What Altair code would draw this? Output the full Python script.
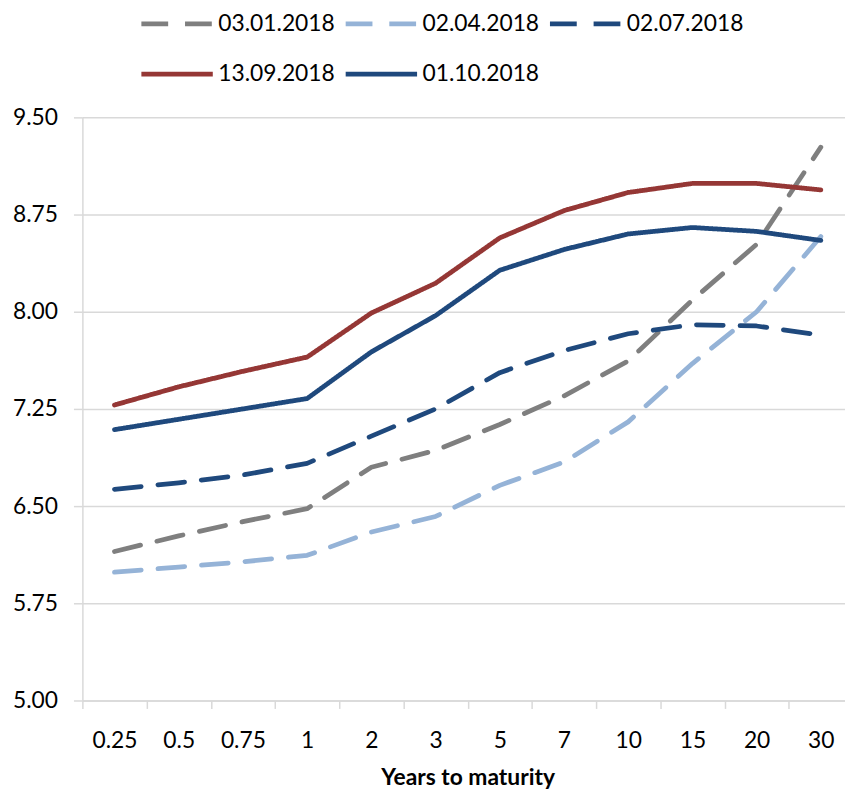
import altair as alt
import pandas as pd

maturities = ["0.25", "0.5", "0.75", "1", "2", "3", "5", "7", "10", "15", "20", "30"]
series_names = ["03.01.2018", "02.04.2018", "02.07.2018", "13.09.2018", "01.10.2018"]
s_0301 = [6.15, 6.27, 6.38, 6.48, 6.80, 6.93, 7.13, 7.35, 7.62, 8.09, 8.52, 9.27]
s_0204 = [5.99, 6.03, 6.07, 6.12, 6.30, 6.42, 6.66, 6.84, 7.15, 7.60, 8.00, 8.58]
s_0207 = [6.63, 6.68, 6.74, 6.83, 7.04, 7.25, 7.53, 7.70, 7.83, 7.90, 7.89, 7.82]
s_1309 = [7.28, 7.42, 7.54, 7.65, 7.99, 8.22, 8.57, 8.78, 8.92, 8.99, 8.99, 8.94]
s_0110 = [7.09, 7.17, 7.25, 7.33, 7.69, 7.97, 8.32, 8.48, 8.60, 8.65, 8.62, 8.55]
y_ticks = [5.00, 5.75, 6.50, 7.25, 8.00, 8.75, 9.50]

colors = ["#7f7f7f", "#95b3d7", "#1f497d", "#953735", "#1f497d"]
dashes = [[27, 17], [27, 17], [27, 17], [1, 0], [1, 0]]

rows = []
for name, vals in zip(series_names, [s_0301, s_0204, s_0207, s_1309, s_0110]):
    for m, v in zip(maturities, vals):
        rows.append({"series": name, "maturity": m, "value": v})
df = pd.DataFrame(rows)

FONT = "Lato"

legend_opts = dict(title=None, orient="none", legendX=57, legendY=-133,
                   columns=3, direction="horizontal",
                   symbolType="stroke", symbolSize=5184,
                   symbolStrokeWidth=4.8, labelFontSize=23,
                   labelOffset=3, columnPadding=0, rowPadding=-8,
                   labelColor="#000000")

chart = alt.Chart(df).mark_line(strokeWidth=4.8, strokeCap="round", strokeJoin="round").encode(
    x=alt.X("maturity:O", sort=maturities, bandPosition=0.5,
            scale=alt.Scale(type="band", paddingInner=0, paddingOuter=0, range=[0, 777]),
            axis=alt.Axis(title="Years to maturity", labelAngle=0, tickBand="extent",
                          grid=False, domainColor="#d9d9d9", tickColor="#d9d9d9",
                          domainWidth=1.5, tickWidth=1.5, tickSize=8, labelPadding=21,
                          labelFontSize=23, titleFontSize=23, titleFontWeight="bold",
                          titlePadding=15, labelColor="#000000", titleColor="#000000")),
    y=alt.Y("value:Q", scale=alt.Scale(domain=[5, 9.5], nice=False, zero=False),
            axis=alt.Axis(title=None, values=y_ticks, format=".2f", grid=True,
                          gridColor="#d9d9d9", gridWidth=1.5, domainColor="#d9d9d9",
                          domainWidth=1.5, tickColor="#d9d9d9", tickWidth=1.5, tickSize=9,
                          labelPadding=16, labelFontSize=23, labelColor="#000000")),
    color=alt.Color("series:N", sort=series_names,
                    scale=alt.Scale(domain=series_names, range=colors),
                    legend=alt.Legend(**legend_opts)),
    strokeDash=alt.StrokeDash("series:N", sort=series_names,
                              scale=alt.Scale(domain=series_names, range=dashes),
                              legend=alt.Legend(**legend_opts)),
).properties(
    width=769, height=588,
    padding={"left": 75, "top": 107, "right": 0, "bottom": 88},
    autosize=alt.AutoSizeParams(type="none"),
).configure(font=FONT).configure_view(stroke=None)

chart.save("out.html", embed_options={"renderer": "svg", "actions": False})
